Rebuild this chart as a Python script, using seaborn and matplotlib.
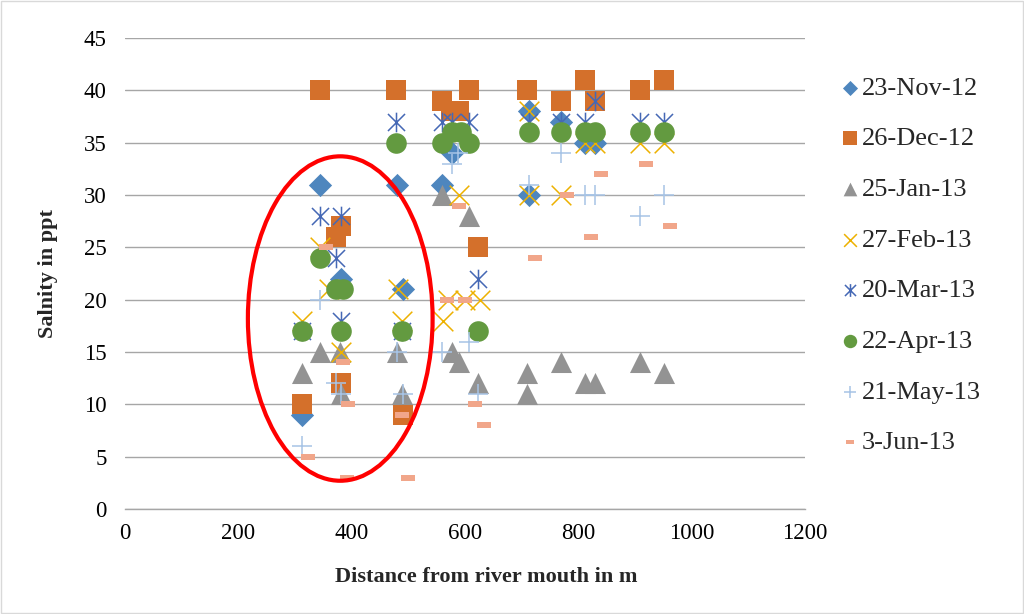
import matplotlib
matplotlib.use("Agg")
import matplotlib.pyplot as plt
import seaborn as sns
import pandas as pd
from matplotlib.path import Path
from matplotlib.patches import Ellipse, Rectangle

# distance (m) and salinity (ppt), one pair of lists per survey date
nov_x = [312, 344, 381, 481, 490, 560, 578, 714, 714, 770, 812, 830]
nov_y = [9, 31, 22, 31, 21, 31, 34, 38, 30, 37, 35, 35]

dec_x = [312, 344, 372, 381, 381, 479, 490, 560, 576, 590, 608, 624, 710, 770, 812, 830, 909, 951]
dec_y = [10, 40, 26, 27, 12, 40, 9, 39, 38, 38, 40, 25, 40, 39, 41, 39, 40, 41]

jan_x = [312, 345, 379, 381, 480, 489, 560, 578, 590, 608, 624, 710, 710, 769, 812, 830, 909, 951]
jan_y = [13, 15, 15, 11, 15, 11, 30, 15, 14, 28, 12, 13, 11, 14, 12, 12, 14, 13]

feb_x = [312, 344, 361, 381, 482, 489, 561, 571, 590, 601, 626, 714, 714, 770, 812, 830, 909, 951]
feb_y = [18, 25, 21, 15, 21, 18, 18, 20, 30, 20, 20, 38, 30, 30, 35, 35, 35, 35]

mar_x = [312, 344, 372, 381, 381, 479, 489, 560, 578, 608, 624, 714, 770, 812, 830, 909, 951]
mar_y = [17, 28, 24, 28, 18, 37, 17, 37, 37, 37, 22, 37, 37, 37, 39, 37, 37]

apr_x = [312, 344, 372, 384, 381, 489, 479, 560, 578, 593, 608, 624, 714, 770, 812, 830, 909, 951]
apr_y = [17, 24, 21, 21, 17, 17, 35, 35, 36, 36, 35, 17, 36, 36, 36, 36, 36, 36]

may_x = [312, 344, 372, 381, 480, 490, 560, 578, 587, 608, 624, 714, 770, 812, 830, 909, 951]
may_y = [6, 20, 12, 11, 15, 11, 15, 33, 34, 16, 11, 31, 34, 30, 30, 28, 30]

jun_x = [323, 355, 384, 393, 392, 489, 499, 569, 600, 590, 618, 634, 724, 781, 822, 840, 919, 962]
jun_y = [5, 25, 14, 10, 3, 9, 3, 20, 20, 29, 10, 8, 24, 30, 26, 32, 33, 27]

dates = ["23-Nov-12", "26-Dec-12", "25-Jan-13", "27-Feb-13",
         "20-Mar-13", "22-Apr-13", "21-May-13", "3-Jun-13"]
xs = [nov_x, dec_x, jan_x, feb_x, mar_x, apr_x, may_x, jun_x]
ys = [nov_y, dec_y, jan_y, feb_y, mar_y, apr_y, may_y, jun_y]

# excel-like marker shapes
asterisk = Path([(-1, -1), (1, 1), (-1, 1), (1, -1), (0, -1.15), (0, 1.15)],
                [Path.MOVETO, Path.LINETO, Path.MOVETO, Path.LINETO, Path.MOVETO, Path.LINETO])
dash = [(-1, -0.45), (1, -0.45), (1, 0.45), (-1, 0.45), (-1, -0.45)]

styles = [
    dict(marker="D", s=140, color="#4E86BE", edgecolor="#4E86BE", linewidth=0),
    dict(marker="s", s=210, color="#D4702B", edgecolor="#D4702B", linewidth=0),
    dict(marker="^", s=230, color="#939393", edgecolor="#939393", linewidth=0),
    dict(marker="x", s=200, color="#EDB100", linewidth=1.1),
    dict(marker=asterisk, s=200, color="#4568B5", edgecolor="#4568B5", linewidth=1.1),
    dict(marker="o", s=220, color="#639A40", edgecolor="#639A40", linewidth=0),
    dict(marker="+", s=200, color="#A7C4E6", linewidth=1.1),
    dict(marker=dash, s=90, color="#F1A68A", edgecolor="#F1A68A", linewidth=0),
]

sns.set_style("white")
plt.rcParams["font.family"] = ["Liberation Serif", "DejaVu Serif"]

fig = plt.figure(figsize=(10.24, 6.14), dpi=100)
ax = fig.add_axes([0.122, 0.171, 0.664, 0.767])

for name, x, y, st in zip(dates, xs, ys, styles):
    df = pd.DataFrame({"Distance": x, "Salinity": y})
    sns.scatterplot(data=df, x="Distance", y="Salinity", ax=ax, label=name, legend=False, **st)

# red ellipse highlighting the lower reach
ax.add_patch(Ellipse((380, 18.2), 326, 31.0, fill=False, edgecolor="#FF0000", linewidth=3, zorder=5))

ax.set_xlim(0, 1200)
ax.set_ylim(0, 45)
ax.set_xticks(range(0, 1201, 200))
ax.set_yticks(range(0, 46, 5))
ax.tick_params(axis="y", labelsize=16.5, length=0, pad=13, colors="#000000")
ax.tick_params(axis="x", labelsize=16.5, length=0, pad=10, colors="#000000")
ax.yaxis.grid(True, color="#A6A6A6", linewidth=1.0)
ax.set_axisbelow(True)
for side in ["top", "right", "left"]:
    ax.spines[side].set_visible(False)
ax.spines["bottom"].set_color("#A6A6A6")
ax.spines["bottom"].set_linewidth(1.0)

ax.set_xlabel("Distance from river mouth in m", fontsize=16, fontweight="bold")
ax.set_ylabel("Salnity in ppt", fontsize=16, fontweight="bold")
ax.xaxis.set_label_coords(0.532, -0.123)
ax.yaxis.set_label_coords(-0.099, 0.5)

handles, labels = ax.get_legend_handles_labels()
fig.legend(handles, labels, loc="center left", bbox_to_anchor=(0.811, 0.568),
           frameon=False, fontsize=19, markerscale=0.65, handlelength=0.7,
           handletextpad=0.1, labelspacing=1.03, borderaxespad=0)

fig.patches.append(Rectangle((0.001, 0.001), 0.998, 0.997, transform=fig.transFigure,
                             fill=False, edgecolor="#D9D9D9", linewidth=1))

fig.savefig("out.png", dpi=100)
